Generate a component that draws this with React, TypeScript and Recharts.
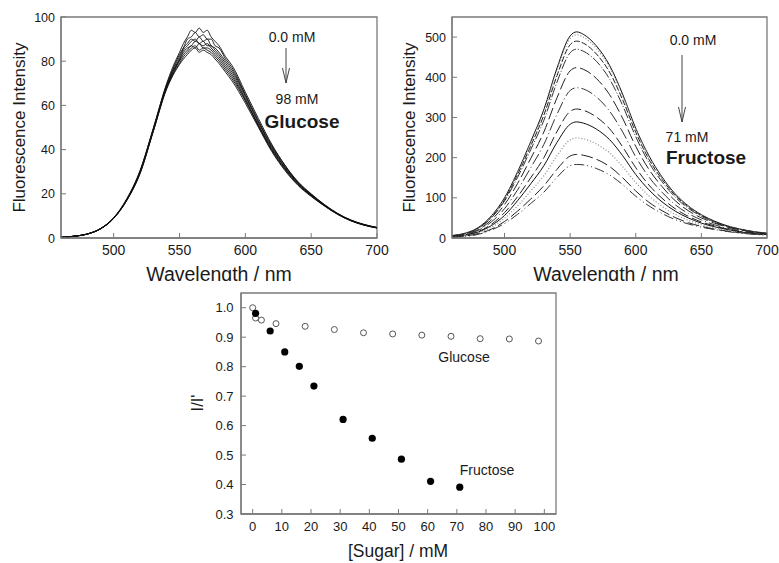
import React from 'react';
import { LineChart, Line, XAxis, YAxis, ReferenceArea, ScatterChart, Scatter } from 'recharts';

const FONT = '"Liberation Sans", Arial, Helvetica, sans-serif';
const AXIS = '#7a7a7a';
const INK = '#1a1a1a';

// ---------- Glucose spectra (left panel) ----------
const glucoseWavelengths = [460, 470, 480, 490, 500, 510, 520, 530, 540, 545, 550, 553, 556, 559, 562, 565, 568, 571, 574, 577, 580, 585, 590, 600, 610, 620, 630, 640, 650, 660, 670, 680, 690, 700];
const glucose0 = [0.3, 0.8, 1.8, 4.3, 9.2, 17.8, 30.5, 49.5, 69.5, 77.5, 84, 88, 91, 94, 93, 95, 93, 94, 91, 89, 87, 82, 78, 66, 54, 42.5, 33, 25.5, 20, 15.2, 11.2, 8.2, 6.2, 4.8];
const glucose1 = [0.3, 0.8, 1.8, 4.2, 9.1, 17.6, 30.2, 49.2, 69, 76.5, 83, 86, 90, 91, 93, 91, 92, 90, 90, 87, 86, 81, 77, 65, 53, 42, 33, 25.2, 19.8, 15, 11, 8.1, 6.1, 4.7];
const glucose2 = [0.3, 0.8, 1.8, 4.2, 9, 17.5, 30, 49, 68.5, 76, 82, 86, 88, 90, 89, 91, 89, 90, 87, 86, 84, 80, 76, 64.5, 52.5, 41.5, 32.5, 25, 19.6, 15, 11, 8, 6, 4.7];
const glucose3 = [0.3, 0.8, 1.8, 4.2, 9, 17.4, 29.8, 48.8, 68.3, 75.5, 81, 85, 87, 89, 90, 88, 89, 87, 87, 85, 83, 79, 75, 64, 52, 41, 32, 25, 19.5, 14.9, 11, 8, 6, 4.7];
const glucose4 = [0.3, 0.8, 1.8, 4.2, 9, 17.3, 29.7, 48.6, 68, 75, 80.5, 84, 86, 87, 89, 88, 87, 88, 86, 84, 82, 78, 74, 63, 51, 40.5, 31.8, 24.6, 19.3, 14.8, 10.9, 8, 6, 4.6];
const glucose5 = [0.3, 0.8, 1.8, 4.2, 8.9, 17.2, 29.5, 48.4, 67.7, 74.5, 80, 83, 85, 87, 86, 88, 86, 86, 85, 83, 81, 77, 73, 62.5, 51, 40, 31.3, 24.3, 19.2, 14.7, 10.8, 7.9, 5.9, 4.6];
const glucose6 = [0.3, 0.8, 1.8, 4.1, 8.9, 17.1, 29.3, 48.2, 67.4, 74, 79, 82, 84, 86, 87, 85, 86, 85, 84, 82, 80, 76, 72, 62, 50.5, 39.7, 31, 24.1, 19, 14.6, 10.8, 7.9, 5.9, 4.6];
const glucose7 = [0.3, 0.8, 1.8, 4.1, 8.8, 17, 29, 48, 67, 73.5, 78.5, 81, 83, 85, 86, 84, 85, 84, 83, 81, 79, 75, 71, 61, 50, 39.2, 30.6, 23.8, 18.8, 14.5, 10.7, 7.8, 5.8, 4.5];
const glucoseSeries = [glucose0, glucose1, glucose2, glucose3, glucose4, glucose5, glucose6, glucose7];

// ---------- Fructose spectra (right panel) ----------
const fructoseWavelengths = [460, 470, 480, 490, 500, 510, 520, 530, 540, 550, 555, 560, 570, 580, 590, 600, 610, 620, 630, 640, 650, 660, 670, 680, 690, 700];
const fructose0 = [6, 12, 26, 55, 100, 165, 240, 320, 423, 503, 513, 507, 478, 430, 358, 273, 205, 152, 110, 80, 58, 42, 30, 22, 16, 12];
const fructose1 = [6, 12, 26, 54, 98, 162, 236, 315, 416, 496, 506, 500, 472, 425, 354, 271, 202, 150, 108, 79, 57, 41, 30, 22, 16, 12];
const fructose2 = [6, 11, 25, 52, 95, 158, 229, 306, 404, 481, 490, 485, 458, 413, 344, 263, 196, 146, 106, 77, 56, 41, 29, 21, 15, 11];
const fructose3 = [5, 11, 24, 50, 92, 151, 220, 293, 388, 461, 470, 465, 440, 396, 330, 252, 188, 140, 102, 74, 54, 39, 28, 21, 15, 11];
const fructose4 = [5, 10, 21, 45, 83, 136, 198, 264, 349, 416, 424, 420, 397, 357, 298, 228, 171, 128, 93, 68, 50, 37, 27, 20, 14, 11];
const fructose5 = [4, 9, 19, 40, 73, 120, 175, 233, 308, 367, 374, 371, 351, 316, 264, 202, 152, 114, 83, 61, 45, 33, 24, 18, 13, 10];
const fructose6 = [4, 8, 16, 34, 63, 103, 150, 200, 265, 315, 321, 318, 301, 272, 227, 175, 132, 99, 73, 54, 40, 30, 22, 16, 12, 9];
const fructose7 = [3, 7, 15, 31, 56, 93, 135, 180, 238, 283, 289, 286, 271, 245, 205, 158, 120, 90, 67, 50, 37, 28, 21, 15, 11, 9];
const fructose8 = [3, 6, 13, 27, 49, 80, 117, 155, 205, 244, 249, 247, 234, 212, 178, 138, 105, 79, 59, 44, 33, 25, 19, 14, 10, 8];
const fructose9 = [2, 5, 11, 22, 41, 67, 97, 130, 171, 204, 208, 206, 196, 178, 150, 117, 89, 68, 51, 38, 29, 22, 17, 13, 10, 8];
const fructose10 = [2, 4, 9, 20, 36, 59, 86, 114, 151, 180, 183, 182, 173, 157, 133, 104, 80, 61, 46, 35, 27, 21, 16, 12, 9, 7];
const fructoseSeries = [fructose0, fructose1, fructose2, fructose3, fructose4, fructose5, fructose6, fructose7, fructose8, fructose9, fructose10];
const fructoseDash = ['', '1 2', '6 2', '10 2 1 2', '12 4', '12 3 1 3', '10 4', '', '1 2', '12 4', '10 3 1 3 1 3'];
const fructoseColor = ['#111', '#888', '#222', '#333', '#222', '#333', '#222', '#111', '#888', '#222', '#333'];

// ---------- Ratio vs sugar concentration (bottom panel) ----------
const glucoseConc = [0, 1, 3, 8, 18, 28, 38, 48, 58, 68, 78, 88, 98];
const glucoseRatio = [1.0, 0.965, 0.958, 0.946, 0.937, 0.926, 0.915, 0.911, 0.907, 0.903, 0.895, 0.894, 0.887];
const fructoseConc = [1, 6, 11, 16, 21, 31, 41, 51, 61, 71];
const fructoseRatio = [0.981, 0.921, 0.85, 0.801, 0.734, 0.621, 0.557, 0.486, 0.411, 0.391];

// ---------- Ticks ----------
const wavelengthTicks = [500, 550, 600, 650, 700];
const glucoseIntensityTicks = [0, 20, 40, 60, 80, 100];
const fructoseIntensityTicks = [0, 100, 200, 300, 400, 500];
const sugarTicks = [0, 10, 20, 30, 40, 50, 60, 70, 80, 90, 100];
const ratioTicks = [0.3, 0.4, 0.5, 0.6, 0.7, 0.8, 0.9, 1.0];

const glucoseData = glucoseWavelengths.map((w, i) => {
  const row: any = { w };
  glucoseSeries.forEach((s, k) => { row['g' + k] = s[i]; });
  return row;
});
const fructoseData = fructoseWavelengths.map((w, i) => {
  const row: any = { w };
  fructoseSeries.forEach((s, k) => { row['f' + k] = s[i]; });
  return row;
});
const glucosePoints = glucoseConc.map((x, i) => ({ x, y: glucoseRatio[i] }));
const fructosePoints = fructoseConc.map((x, i) => ({ x, y: fructoseRatio[i] }));

function XTick(props: any) {
  const { x, y, payload, fs, fmt } = props;
  const label = fmt ? fmt(payload.value) : String(payload.value);
  return (
    <g>
      <line x1={x} x2={x} y1={y - 3} y2={y - 8} stroke={AXIS} strokeWidth={1} />
      <text x={x} y={y + 14} textAnchor="middle" fontSize={fs} fill={INK} fontFamily={FONT}>{label}</text>
    </g>
  );
}

function YTick(props: any) {
  const { x, y, payload, fs, fmt, gap } = props;
  const label = fmt ? fmt(payload.value) : String(payload.value);
  return (
    <g>
      <line x1={x + 3} x2={x + 8} y1={y} y2={y} stroke={AXIS} strokeWidth={1} />
      <text x={x + 3 - gap} y={y + 4.5} textAnchor="end" fontSize={fs} fill={INK} fontFamily={FONT}>{label}</text>
    </g>
  );
}

const openCircle = (p: any) => <circle cx={p.cx} cy={p.cy} r={3} fill="#fff" stroke="#555" strokeWidth={1} />;
const filledCircle = (p: any) => <circle cx={p.cx} cy={p.cy} r={3.6} fill="#000" stroke="none" />;

export default function App() {
  return (
    <div style={{ position: 'absolute', left: 0, top: 0, width: 779, height: 563, background: '#fff', overflow: 'hidden' }}>
      <div style={{ position: 'absolute', left: 0, top: 0 }}>
        <LineChart width={390} height={290} data={glucoseData} margin={{ top: 17, right: 13, left: 0, bottom: 0 }}>
          <XAxis dataKey="w" type="number" domain={[460, 700]} allowDataOverflow ticks={wavelengthTicks}
            height={52} tickSize={0} tickMargin={3} stroke={AXIS} axisLine={{ stroke: AXIS, strokeWidth: 1.3 }}
            tick={<XTick fs={14} />} interval={0} />
          <YAxis type="number" domain={[0, 100]} allowDataOverflow ticks={glucoseIntensityTicks}
            width={61} tickSize={0} tickMargin={3} axisLine={{ stroke: AXIS, strokeWidth: 1.3 }}
            tick={<YTick fs={12.5} gap={6} />} interval={0} />
          <ReferenceArea x1={460} x2={700} y1={0} y2={100} fill="none" stroke={AXIS} strokeWidth={1.3} ifOverflow="visible" />
          {glucoseSeries.map((_, k) => (
            <Line key={k} dataKey={'g' + k} type="monotone" dot={false} stroke="#111" strokeWidth={0.9} isAnimationActive={false} />
          ))}
        </LineChart>
      </div>
      <div style={{ position: 'absolute', left: 390, top: 0 }}>
        <LineChart width={389} height={290} data={fructoseData} margin={{ top: 17, right: 12, left: 0, bottom: 0 }}>
          <XAxis dataKey="w" type="number" domain={[460, 700]} allowDataOverflow ticks={wavelengthTicks}
            height={52} tickSize={0} tickMargin={3} axisLine={{ stroke: AXIS, strokeWidth: 1.3 }}
            tick={<XTick fs={14} />} interval={0} />
          <YAxis type="number" domain={[0, 550]} allowDataOverflow ticks={fructoseIntensityTicks}
            width={62} tickSize={0} tickMargin={3} axisLine={{ stroke: AXIS, strokeWidth: 1.3 }}
            tick={<YTick fs={12.5} gap={6} />} interval={0} />
          <ReferenceArea x1={460} x2={700} y1={0} y2={550} fill="none" stroke={AXIS} strokeWidth={1.3} ifOverflow="visible" />
          {fructoseSeries.map((_, k) => (
            <Line key={k} dataKey={'f' + k} type="monotone" dot={false} stroke={fructoseColor[k]}
              strokeWidth={fructoseDash[k] === '1 2' ? 1.2 : 1} strokeDasharray={fructoseDash[k] || undefined}
              isAnimationActive={false} />
          ))}
        </LineChart>
      </div>
      <div style={{ position: 'absolute', left: 190, top: 270 }}>
        <ScatterChart width={400} height={293} margin={{ top: 23, right: 34, left: 0, bottom: 0 }}>
          <XAxis dataKey="x" type="number" domain={[-4, 104]} allowDataOverflow ticks={sugarTicks}
            height={49} tickSize={0} tickMargin={3} axisLine={{ stroke: AXIS, strokeWidth: 1.3 }}
            tick={<XTick fs={13} />} interval={0} />
          <YAxis dataKey="y" type="number" domain={[0.3, 1.05]} allowDataOverflow ticks={ratioTicks}
            width={51} tickSize={0} tickMargin={3} axisLine={{ stroke: AXIS, strokeWidth: 1.3 }}
            tick={<YTick fs={13} gap={7.5} fmt={(v: number) => v.toFixed(1)} />} interval={0} />
          <ReferenceArea x1={-4} x2={104} y1={0.3} y2={1.05} fill="none" stroke={AXIS} strokeWidth={1.3} ifOverflow="visible" />
          <Scatter name="Glucose" data={glucosePoints} shape={openCircle} isAnimationActive={false} />
          <Scatter name="Fructose" data={fructosePoints} shape={filledCircle} isAnimationActive={false} />
        </ScatterChart>
      </div>
      <svg width={779} height={563} style={{ position: 'absolute', left: 0, top: 0, pointerEvents: 'none' }}>
        <defs>
          <clipPath id="topClip"><rect x={0} y={0} width={779} height={281} /></clipPath>
        </defs>
        <g fontFamily={FONT} fill={INK}>
          {/* Axis titles */}
          <text x={25} y={127.5} fontSize={17} textAnchor="middle" transform="rotate(-90 25 127.5)">Fluorescence Intensity</text>
          <text x={415} y={127.5} fontSize={17} textAnchor="middle" transform="rotate(-90 415 127.5)">Fluorescence Intensity</text>
          <g clipPath="url(#topClip)">
            <text x={219} y={281} fontSize={19.5} textAnchor="middle">Wavelength / nm</text>
            <text x={606} y={281} fontSize={19.5} textAnchor="middle">Wavelength / nm</text>
          </g>
          <text x={202.5} y={403} fontSize={16.5} textAnchor="middle" transform="rotate(-90 202.5 403)">I/I'</text>
          <text x={398} y={557} fontSize={17.5} textAnchor="middle">[Sugar] / mM</text>

          {/* Glucose panel annotations */}
          <text x={292} y={42} fontSize={14} textAnchor="middle">0.0 mM</text>
          <text x={297} y={104} fontSize={14} textAnchor="middle">98 mM</text>
          <text x={302} y={128} fontSize={19} fontWeight="bold" textAnchor="middle">Glucose</text>

          {/* Fructose panel annotations */}
          <text x={693} y={45} fontSize={14} textAnchor="middle">0.0 mM</text>
          <text x={687} y={142} fontSize={14} textAnchor="middle">71 mM</text>
          <text x={706} y={164} fontSize={19} fontWeight="bold" textAnchor="middle">Fructose</text>

          {/* Bottom panel labels */}
          <text x={464} y={362} fontSize={14} textAnchor="middle">Glucose</text>
          <text x={487} y={475} fontSize={14} textAnchor="middle">Fructose</text>
        </g>
        <g stroke="#444" strokeWidth={1} fill="none">
          <line x1={286} y1={48} x2={286} y2={83} />
          <polyline points="282.5,68 286,83 289.5,68" />
          <line x1={682} y1={55} x2={682} y2={122} />
          <polyline points="678.5,107 682,122 685.5,107" />
        </g>
      </svg>
    </div>
  );
}
